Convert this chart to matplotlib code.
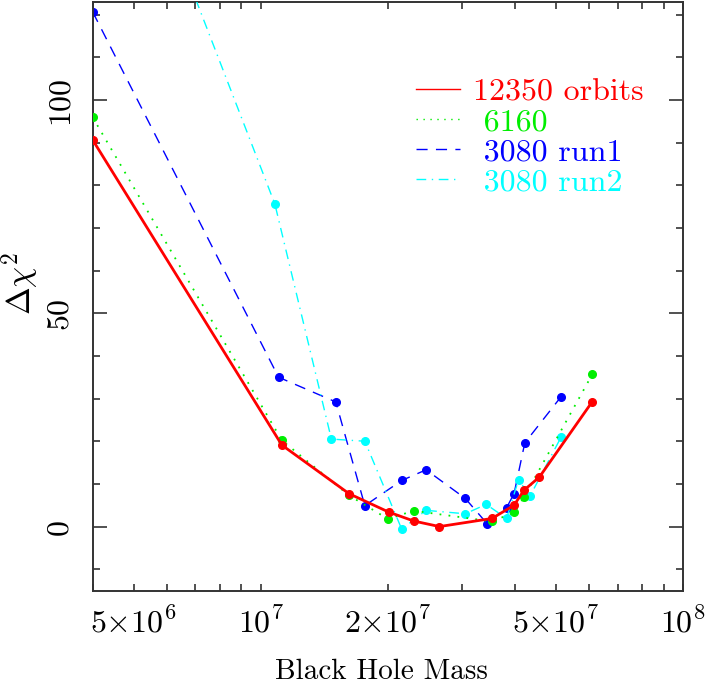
import matplotlib
matplotlib.use("Agg")  # no display
import matplotlib.pyplot as plt
from matplotlib.ticker import FixedLocator, NullFormatter, FixedFormatter

plt.rcParams['font.family'] = 'cmr10'
plt.rcParams['mathtext.fontset'] = 'cm'
plt.rcParams['axes.unicode_minus'] = False

# ---------------------------------------------------------------------------
# Data
# ---------------------------------------------------------------------------
mass_12350 = [4.0e6, 1.122e7, 1.619e7, 2.009e7, 2.303e7, 2.65e7, 3.53e7, 3.98e7, 4.2e7, 4.57e7, 6.1e7]
dchi_12350 = [90.6, 19.1, 7.7, 3.4, 1.3, 0.0, 1.9, 5.0, 8.5, 11.6, 29.3]

mass_6160 = [4.0e6, 1.122e7, 1.619e7, 2.0e7, 2.303e7, 3.53e7, 3.98e7, 4.21e7, 6.1e7]
dchi_6160 = [95.9, 20.2, 7.3, 1.8, 3.7, 1.2, 3.3, 7.0, 35.7]

mass_run1 = [4.0e6, 1.102e7, 1.506e7, 1.764e7, 2.157e7, 2.464e7, 3.05e7, 3.435e7, 3.82e7, 3.98e7, 4.22e7, 5.14e7]
dchi_run1 = [120.6, 35.0, 29.2, 4.9, 10.8, 13.3, 6.6, 0.7, 4.4, 7.7, 19.6, 30.4]

mass_run2 = [4.0e6, 1.08e7, 1.47e7, 1.764e7, 2.157e7, 2.464e7, 3.05e7, 3.42e7, 3.82e7, 4.08e7, 4.34e7, 5.14e7]
dchi_run2 = [186.0, 75.6, 20.5, 20.0, -0.6, 3.8, 3.0, 5.2, 1.9, 11.0, 7.1, 20.9]

x_tick_vals = [5e6, 1e7, 2e7, 5e7, 1e8]
x_tick_labels = [r'$5{\times}10^6$', r'$10^7$', r'$2{\times}10^7$', r'$5{\times}10^7$', r'$10^8$']
y_tick_vals = [0, 50, 100]

# ---------------------------------------------------------------------------
# Figure
# ---------------------------------------------------------------------------
fig = plt.figure(figsize=(7.08, 6.85), dpi=100)
ax = fig.add_axes([92.7 / 708, 1 - 591 / 685, (683 - 92.7) / 708, (591 - 1.7) / 685])

series = [
    (mass_run1, dchi_run1, 'blue', dict(dashes=(8, 6)), 1.0, '3080 run1', 2),
    (mass_run2, dchi_run2, 'cyan', dict(dashes=(7, 4, 1, 4)), 1.0, '3080 run2', 3),
    (mass_6160, dchi_6160, '#00ee00', dict(dashes=(1, 4)), 1.3, '6160', 4),
    (mass_12350, dchi_12350, 'red', dict(linestyle='-'), 2.0, '12350 orbits', 5),
]
handles = {}
for m, d, col, style, lw, lab, z in series:
    line, = ax.plot(m, d, color=col, lw=lw, zorder=z, **style)
    ax.plot(m, d, 'o', color=col, ms=5.5, zorder=z)
    handles[lab] = line

ax.set_xscale('log')
ax.set_xlim(4.0e6, 1.0e8)
ax.set_ylim(-15.1, 123.0)

ax.xaxis.set_major_locator(FixedLocator(x_tick_vals))
ax.xaxis.set_major_formatter(FixedFormatter(x_tick_labels))
ax.xaxis.set_minor_locator(FixedLocator([k * 10 ** e for e in (6, 7) for k in range(2, 10)]))
ax.xaxis.set_minor_formatter(NullFormatter())
ax.yaxis.set_major_locator(FixedLocator(y_tick_vals))
ax.yaxis.set_minor_locator(FixedLocator(range(-10, 130, 10)))

ax.tick_params(which='both', direction='in', top=True, right=True,
               color='#333333', labelsize=23)
ax.tick_params(which='major', length=10, width=1.2)
ax.tick_params(which='minor', length=5, width=1.2)
ax.tick_params(axis='x', pad=11)
ax.tick_params(axis='y', pad=14, labelrotation=90)
for t in ax.get_yticklabels():
    t.set_va('center')
# the 5e6, 2e7, 5e7 positions are minor tick lengths in the reference
for t in ax.xaxis.get_major_ticks():
    if t.get_loc() not in (1e7, 1e8):
        t.tick1line.set_markersize(5)
        t.tick2line.set_markersize(5)

for s in ax.spines.values():
    s.set_color('#333333')
    s.set_linewidth(1.4)

fig.text(381 / 708, 1 - 672 / 685, 'Black Hole Mass', ha='center', va='center', fontsize=21)
fig.text(21 / 708, 1 - 283 / 685, r'$\Delta\chi^2$', ha='center', va='center',
         rotation=90, fontsize=24)

order = ['12350 orbits', '6160', '3080 run1', '3080 run2']
shown = ['12350 orbits', ' 6160', ' 3080 run1', ' 3080 run2']
leg = ax.legend([handles[k] for k in order], shown, loc='upper left',
                bbox_to_anchor=(403 / 708, 1 - 65 / 685), bbox_transform=fig.transFigure,
                frameon=False, fontsize=23, handlelength=1.38, handletextpad=0.4,
                labelspacing=0.05, labelcolor='linecolor', borderaxespad=0)
for h in leg.legend_handles:
    h.set_linewidth(1.0)

fig.savefig('out.png', dpi=100)
